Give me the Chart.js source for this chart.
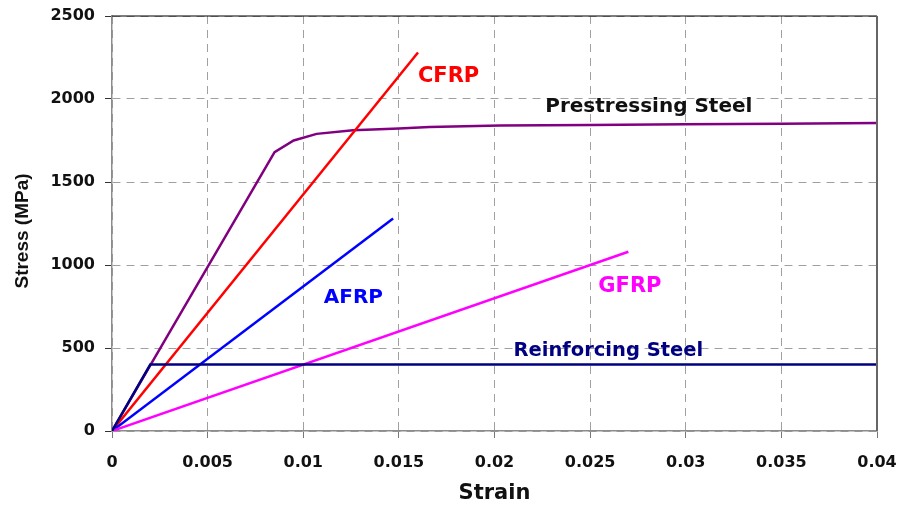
<!DOCTYPE html>
<html>
<head>
<meta charset="utf-8">
<script src="https://cdn.jsdelivr.net/npm/chart.js@4/dist/chart.umd.min.js"></script>
<style>
  html, body { margin: 0; padding: 0; background: #fff; }
  #wrap { width: 898px; height: 506px; }
</style>
</head>
<body>
<div id="wrap"><canvas id="stressStrain"></canvas></div>
<script>
// stress-strain curves, strain (-) vs stress (MPa)
const steelStrain = [0, 0.002, 0.04]
const steelStress = [0, 400, 400]

const prestressStrain = [0, 0.0085, 0.0095, 0.0107, 0.0126, 0.015, 0.0166, 0.0203, 0.025, 0.03, 0.035, 0.04]
const prestressStress = [0, 1680, 1750, 1790, 1812, 1823, 1832, 1840, 1844, 1848, 1851, 1855]

const cfrpStrain = [0, 0.016]
const cfrpStress = [0, 2280]

const afrpStrain = [0, 0.0147]
const afrpStress = [0, 1280]

const gfrpStrain = [0, 0.027]
const gfrpStress = [0, 1080]

const xTicks = [0, 0.005, 0.01, 0.015, 0.02, 0.025, 0.03, 0.035, 0.04]
const yTicks = [0, 500, 1000, 1500, 2000, 2500]

// in-plot labels: text, strain, stress (baseline), colour, size
const curveLabels = [
    ['CFRP', 0.0176, 2104, '#ff0000', 21],
    ['Prestressing Steel', 0.02807, 1920, '#111111', 20],
    ['AFRP', 0.01262, 769, '#0000ff', 20],
    ['GFRP', 0.02708, 839, '#ff00ff', 21],
    ['Reinforcing Steel', 0.02595, 452, '#000080', 19.5]
]

const pts = (xs, ys) => xs.map((x, i) => ({x: x, y: ys[i]}))
const WIDE = '"DejaVu Sans", Verdana, sans-serif'
const NARROW = '"Liberation Sans", Arial, sans-serif'

function series(label, xs, ys, color) {
    return {
        label: label,
        data: pts(xs, ys),
        borderColor: color,
        backgroundColor: color,
        borderWidth: 2.5,
        pointRadius: 0,
        tension: 0,
        fill: false
    }
}

const labelPlugin = {
    id: 'curveLabels',
    afterDatasetsDraw(chart) {
        const ctx = chart.ctx
        const xs = chart.scales.x, ys = chart.scales.y
        const a = chart.chartArea
        ctx.save()
        ctx.textAlign = 'center'
        ctx.textBaseline = 'alphabetic'
        curveLabels.forEach(l => {
            ctx.font = 'bold ' + l[4] + 'px ' + WIDE
            ctx.fillStyle = l[3]
            ctx.fillText(l[0], xs.getPixelForValue(l[1]), ys.getPixelForValue(l[2]))
        })
        // top and right frame
        ctx.strokeStyle = '#000'
        ctx.lineWidth = 1.2
        ctx.beginPath()
        ctx.moveTo(a.left, a.top)
        ctx.lineTo(a.right, a.top)
        ctx.stroke()
        ctx.strokeStyle = '#666'
        ctx.lineWidth = 2
        ctx.beginPath()
        ctx.moveTo(a.right, a.top)
        ctx.lineTo(a.right, a.bottom)
        ctx.stroke()
        // y axis title
        ctx.translate(23, 231)
        ctx.rotate(-Math.PI / 2)
        ctx.textBaseline = 'middle'
        ctx.font = 'bold 19px ' + NARROW
        ctx.fillStyle = '#111'
        ctx.fillText('Stress (MPa)', 0, 0)
        ctx.restore()
    }
}

new Chart(document.getElementById('stressStrain'), {
    type: 'line',
    data: {
        datasets: [
            series('Reinforcing Steel', steelStrain, steelStress, '#000080'),
            series('GFRP', gfrpStrain, gfrpStress, '#ff00ff'),
            series('AFRP', afrpStrain, afrpStress, '#0000ff'),
            series('CFRP', cfrpStrain, cfrpStress, '#ff0000'),
            series('Prestressing Steel', prestressStrain, prestressStress, '#800080')
        ]
    },
    options: {
        responsive: true,
        maintainAspectRatio: false,
        animation: false,
        layout: { padding: { left: 0, right: 21, top: 16, bottom: 0 } },
        plugins: { legend: { display: false }, tooltip: { enabled: false } },
        scales: {
            x: {
                type: 'linear',
                min: 0,
                max: 0.04,
                afterBuildTicks: s => { s.ticks = xTicks.map(v => ({value: v})) },
                afterFit: s => { s.height = 75; s.paddingLeft = 0; s.paddingRight = 0 },
                ticks: {
                    color: '#111',
                    font: { family: WIDE, size: 16, weight: 'bold' },
                    padding: 15,
                    maxRotation: 0,
                    callback: v => String(v)
                },
                grid: { color: '#a0a0a0', lineWidth: 1, tickLength: 7, tickColor: '#777', tickBorderDash: [] },
                border: { display: true, color: '#8c8c8c', width: 1.5, dash: [8, 6] },
                title: {
                    display: true,
                    text: 'Strain',
                    color: '#111',
                    font: { family: WIDE, size: 21, weight: 'bold' },
                    padding: { top: 6, bottom: 0 }
                }
            },
            y: {
                type: 'linear',
                min: 0,
                max: 2500,
                afterBuildTicks: s => { s.ticks = yTicks.map(v => ({value: v})) },
                afterFit: s => { s.width = 112; s.paddingTop = 0; s.paddingBottom = 0 },
                ticks: {
                    color: '#111',
                    font: { family: WIDE, size: 16, weight: 'bold' },
                    padding: 10,
                    callback: v => String(v)
                },
                grid: { color: '#a0a0a0', lineWidth: 1, tickLength: 7, tickColor: '#333', tickBorderDash: [] },
                border: { display: true, color: '#8c8c8c', width: 1.5, dash: [8, 6] }
            }
        }
    },
    plugins: [labelPlugin]
})
</script>
</body>
</html>
